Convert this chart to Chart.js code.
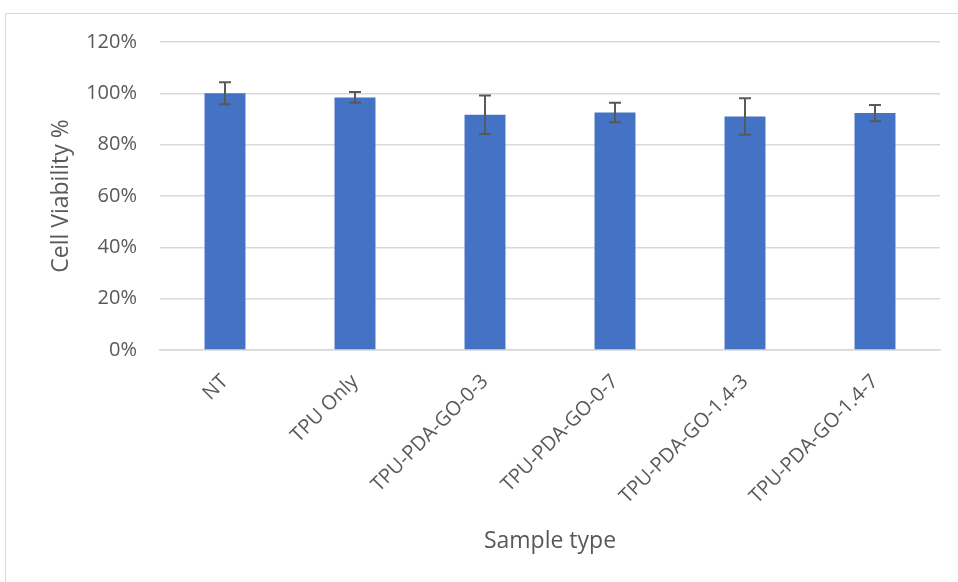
<!DOCTYPE html>
<html>
<head>
<meta charset="utf-8">
<script src="https://cdn.jsdelivr.net/npm/chart.js@4.4.0/dist/chart.umd.min.js"></script>
<style>
  html, body { margin: 0; padding: 0; background: #fff; overflow: hidden; }
  #frame { position: absolute; left: 5px; top: 13px; width: 980px; height: 600px; border: 1px solid #d9d9d9; }
  #chart { position: absolute; left: 0; top: 0; }
</style>
</head>
<body>
<div id="frame"></div>
<canvas id="chart" width="958" height="582"></canvas>
<script>
const sampleTypes = ["NT", "TPU Only", "TPU-PDA-GO-0-3", "TPU-PDA-GO-0-7", "TPU-PDA-GO-1.4-3", "TPU-PDA-GO-1.4-7"];
const viability = [100, 98.4, 91.7, 92.5, 91.0, 92.3];
const viabilityErr = [4.3, 2.1, 7.5, 3.8, 7.1, 3.2];
const yTicks = [0, 20, 40, 60, 80, 100, 120];

const gray = "#595959";
const gridGray = "#d9d9d9";
const font = "'Open Sans', 'DejaVu Sans', sans-serif";

// chart.js has no error bars, draw them on top of the bars
const errorBars = {
    id: 'errorBars',
    afterDatasetsDraw(chart) {
        const ctx = chart.ctx;
        const y = chart.scales.y;
        const meta = chart.getDatasetMeta(0);
        ctx.save();
        ctx.strokeStyle = gray;
        ctx.lineWidth = 2;
        meta.data.forEach((bar, i) => {
            const top = y.getPixelForValue(viability[i] + viabilityErr[i]);
            const bottom = y.getPixelForValue(viability[i] - viabilityErr[i]);
            const cap = 6;
            ctx.beginPath();
            ctx.moveTo(bar.x, top);
            ctx.lineTo(bar.x, bottom);
            ctx.moveTo(bar.x - cap, top);
            ctx.lineTo(bar.x + cap, top);
            ctx.moveTo(bar.x - cap, bottom);
            ctx.lineTo(bar.x + cap, bottom);
            ctx.stroke();
        });
        ctx.restore();
    }
};

new Chart(document.getElementById('chart'), {
    type: 'bar',
    data: {
        labels: sampleTypes,
        datasets: [{
            data: viability,
            backgroundColor: '#4472c4',
            categoryPercentage: 1,
            barPercentage: 0.315
        }]
    },
    options: {
        responsive: false,
        animation: false,
        layout: { padding: { left: 0, right: 18, top: 42, bottom: 0 } },
        plugins: { legend: { display: false }, tooltip: { enabled: false } },
        scales: {
            x: {
                afterFit(scale) { scale.height = 232; },
                grid: { display: false },
                border: { display: true, color: gridGray, width: 1.5 },
                ticks: {
                    color: gray,
                    font: { family: font, size: 20 },
                    minRotation: 45,
                    maxRotation: 45,
                    padding: 12,
                    labelOffset: 0
                },
                title: {
                    display: true,
                    text: 'Sample type',
                    color: gray,
                    font: { family: font, size: 23 },
                    padding: { top: 0, bottom: 27 }
                }
            },
            y: {
                min: 0,
                max: 120,
                afterFit(scale) { scale.width = 160; },
                afterBuildTicks(scale) { scale.ticks = yTicks.map(v => ({ value: v })); },
                grid: { color: gridGray, lineWidth: 1.5, drawTicks: false },
                border: { display: false },
                ticks: {
                    color: gray,
                    font: { family: font, size: 20 },
                    padding: 23,
                    callback: v => v + '%'
                },
                title: {
                    display: true,
                    text: 'Cell Viability %',
                    color: gray,
                    font: { family: font, size: 23 },
                    padding: { top: 48, bottom: 0 }
                }
            }
        }
    },
    plugins: [errorBars]
});
</script>
</body>
</html>
